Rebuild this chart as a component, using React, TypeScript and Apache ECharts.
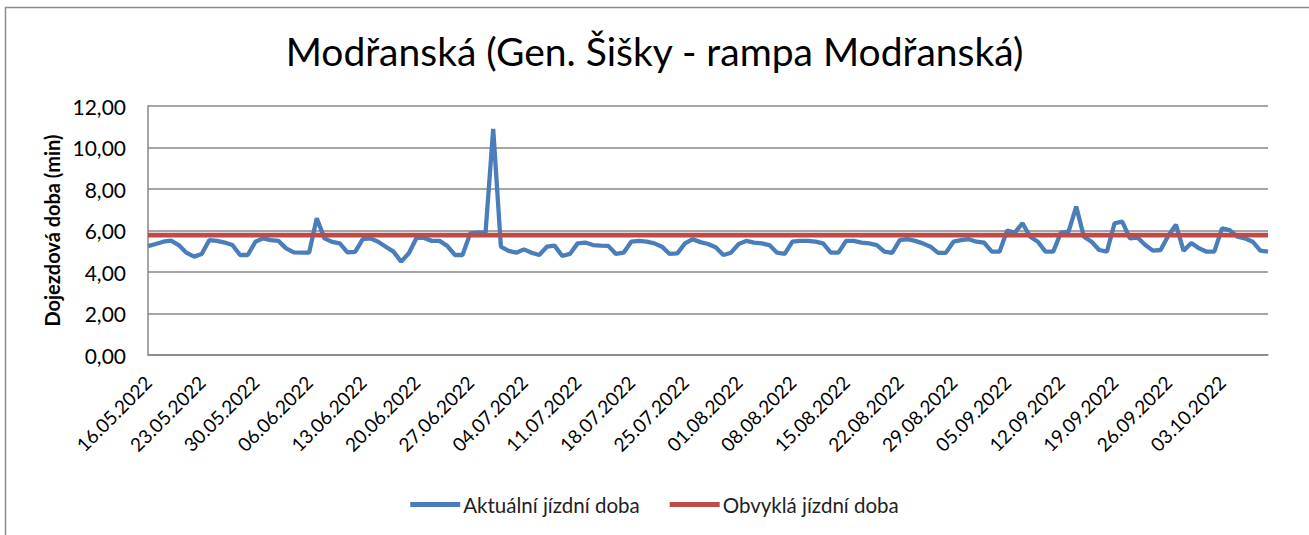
import React, { useEffect, useRef } from "react";
import * as echarts from "echarts";

// ---- data ----
const START_DATE_UTC = Date.UTC(2022, 4, 16); // 16.05.2022
const DAY_COUNT = 147; // 16.05.2022 – 09.10.2022

const pad2 = (n: number) => (n < 10 ? "0" + n : String(n));
const categories: string[] = [];
for (let i = 0; i < DAY_COUNT; i++) {
  const d = new Date(START_DATE_UTC + i * 86400000);
  categories.push(`${pad2(d.getUTCDate())}.${pad2(d.getUTCMonth() + 1)}.${d.getUTCFullYear()}`);
}

const actualTime: number[] = [
  5.25, 5.35, 5.46, 5.51, 5.3, 4.93, 4.74, 4.87, 5.54, 5.5,
  5.42, 5.3, 4.82, 4.82, 5.46, 5.62, 5.54, 5.5, 5.14, 4.95,
  4.93, 4.93, 6.59, 5.62, 5.45, 5.38, 4.95, 4.97, 5.58, 5.62,
  5.46, 5.22, 4.98, 4.5, 4.9, 5.64, 5.64, 5.5, 5.5, 5.26,
  4.82, 4.82, 5.86, 5.9, 5.9, 10.9, 5.22, 5.02, 4.93, 5.09,
  4.93, 4.82, 5.22, 5.27, 4.77, 4.87, 5.38, 5.42, 5.3, 5.27,
  5.26, 4.87, 4.93, 5.46, 5.5, 5.46, 5.38, 5.22, 4.87, 4.9,
  5.38, 5.58, 5.44, 5.35, 5.19, 4.82, 4.93, 5.35, 5.5, 5.42,
  5.38, 5.3, 4.93, 4.87, 5.46, 5.5, 5.5, 5.46, 5.38, 4.93,
  4.93, 5.5, 5.5, 5.42, 5.38, 5.3, 4.98, 4.92, 5.54, 5.58,
  5.5, 5.38, 5.22, 4.92, 4.92, 5.46, 5.54, 5.58, 5.46, 5.41,
  4.98, 4.98, 6.0, 5.9, 6.35, 5.7, 5.46, 4.98, 4.98, 5.9,
  5.94, 7.15, 5.7, 5.46, 5.06, 4.98, 6.35, 6.43, 5.62, 5.66,
  5.3, 5.03, 5.06, 5.75, 6.28, 5.02, 5.4, 5.14, 4.98, 4.98,
  6.1, 6.02, 5.7, 5.62, 5.46, 5.03, 4.98,
];

const USUAL_TIME_VALUE = 5.78;
const usualTime: number[] = categories.map(() => USUAL_TIME_VALUE);

const Y_MIN = 0;
const Y_MAX = 12;
const Y_STEP = 2;

const TITLE = "Modřanská (Gen. Šišky - rampa Modřanská)";
const Y_NAME = "Dojezdová doba (min)";
const SERIES_ACTUAL = "Aktuální jízdní doba";
const SERIES_USUAL = "Obvyklá jízdní doba";

const FONT = "Lato, 'Open Sans', sans-serif";

export default function App() {
  const ref = useRef<HTMLDivElement | null>(null);

  useEffect(() => {
    document.body.style.margin = "0";
    if (!ref.current) return;
    const chart = echarts.init(ref.current, undefined, { renderer: "svg" });
    const gridColor = "#878787";
    chart.setOption({
      animation: false,
      backgroundColor: "#ffffff",
      textStyle: { fontFamily: FONT },
      title: {
        text: TITLE,
        left: "center",
        top: 26,
        textStyle: { fontFamily: FONT, fontSize: 39, fontWeight: "normal", color: "#000" },
      },
      graphic: [
        {
          type: "rect",
          shape: { x: 5.5, y: 7.5, width: 1330, height: 560 },
          style: { fill: "none", stroke: "#8c8c8c", lineWidth: 1.5 },
          silent: true,
        },
      ],
      legend: {
        left: "center",
        top: 489,
        icon: "rect",
        itemWidth: 50,
        itemHeight: 5,
        itemGap: 30,
        textStyle: { fontFamily: FONT, fontSize: 20.5, color: "#222", padding: [0, 0, 0, -2] },
        data: [SERIES_ACTUAL, SERIES_USUAL],
      },
      grid: { left: 148, right: 41, top: 106, bottom: 180 },
      xAxis: {
        type: "category",
        data: categories,
        boundaryGap: false,
        axisLine: { lineStyle: { color: gridColor, width: 1.5 } },
        axisTick: { show: false },
        axisLabel: {
          interval: 6,
          rotate: 45,
          margin: 24,
          fontSize: 19,
          color: "#000",
          fontFamily: FONT,
        },
        splitLine: { show: false },
      },
      yAxis: {
        type: "value",
        min: Y_MIN,
        max: Y_MAX,
        interval: Y_STEP,
        name: Y_NAME,
        nameLocation: "middle",
        nameRotate: 90,
        nameGap: 86,
        nameTextStyle: { fontFamily: FONT, fontSize: 20, fontWeight: "bold", color: "#000" },
        axisLine: { show: true, lineStyle: { color: gridColor, width: 1.5 } },
        axisTick: { show: false },
        axisLabel: {
          margin: 22,
          fontSize: 21,
          color: "#000",
          fontFamily: FONT,
          formatter: (v: number) => v.toFixed(2).replace(".", ","),
        },
        splitLine: { lineStyle: { color: gridColor, width: 1.5 } },
      },
      series: [
        {
          name: SERIES_ACTUAL,
          type: "line",
          data: actualTime,
          symbol: "none",
          lineStyle: { color: "#4A7EBB", width: 4.3 },
          itemStyle: { color: "#4A7EBB" },
          z: 2,
        },
        {
          name: SERIES_USUAL,
          type: "line",
          data: usualTime,
          symbol: "none",
          lineStyle: { color: "#BE4B48", width: 4.8 },
          itemStyle: { color: "#BE4B48" },
          z: 3,
        },
      ],
    });
    return () => chart.dispose();
  }, []);

  return <div ref={ref} style={{ width: 1309, height: 535 }} />;
}
